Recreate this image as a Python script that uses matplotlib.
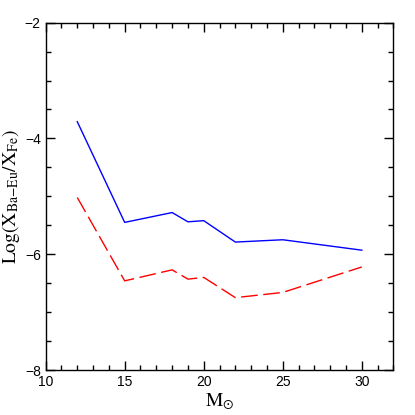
import matplotlib
matplotlib.use('Agg')
import matplotlib.pyplot as plt
from matplotlib.ticker import MultipleLocator

mass = [12, 15, 18, 19, 20, 22, 25, 30]
ba_eu_solid = [-3.71, -5.45, -5.28, -5.44, -5.42, -5.79, -5.75, -5.93]
ba_eu_dashed = [-5.02, -6.46, -6.27, -6.43, -6.40, -6.75, -6.66, -6.22]

plt.rcParams['mathtext.fontset'] = 'stix'

fig = plt.figure(figsize=(4.15, 4.15), dpi=100)
ax = fig.add_axes([0.110, 0.1084, 0.838, 0.837])

ax.plot(mass, ba_eu_solid, color='blue', lw=1.0)
ax.plot(mass, ba_eu_dashed, color='red', lw=1.0, dashes=(12, 4))

ax.set_xlim(10, 32)
ax.set_ylim(-8, -2)
ax.xaxis.set_major_locator(MultipleLocator(5))
ax.xaxis.set_minor_locator(MultipleLocator(1))
ax.yaxis.set_major_locator(MultipleLocator(2))
ax.yaxis.set_minor_locator(MultipleLocator(0.5))
ax.tick_params(which='both', direction='in', top=True, right=True, width=1.0)
ax.tick_params(which='major', length=6.5, labelsize=10)
ax.tick_params(which='minor', length=3.5)
for lab in ax.get_xticklabels() + ax.get_yticklabels():
    lab.set_family('Liberation Sans')
for s in ax.spines.values():
    s.set_linewidth(1.0)

ax.set_xlabel(r'$\mathrm{M}_{\odot}$', fontsize=14, labelpad=2)
ax.set_ylabel(r'$\mathrm{Log}\left(\mathrm{X}_{\mathrm{Ba{-}Eu}}/\mathrm{X}_{\mathrm{Fe}}\right)$',
              fontsize=14, labelpad=2)

fig.savefig('out.png', dpi=100)
